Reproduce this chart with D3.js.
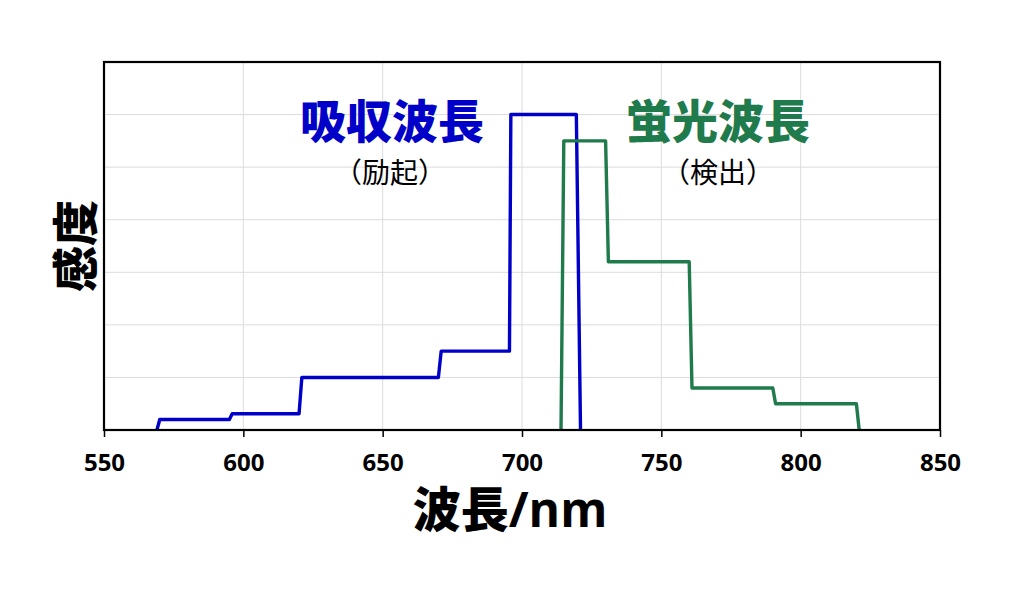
<!DOCTYPE html>
<html>
<head>
<meta charset="utf-8">
<script src="https://cdn.jsdelivr.net/npm/d3@7"></script>
<style>
  body { margin: 0; background: #fff; }
  svg { display: block; }
  .tick text { font-family: "Open Sans", sans-serif; font-weight: bold; }
  .cjk { font-family: "Noto Sans CJK JP", sans-serif; }
  .lat { font-family: "Open Sans", sans-serif; }
</style>
</head>
<body>
<div id="chart"></div>
<script>
// wavelength (nm) / sensitivity pairs
const absWave = [569, 570, 595, 596, 620, 621, 670, 671, 695.5, 696, 719.5, 721];
const absVal  = [0, 0.2, 0.2, 0.31, 0.31, 1.0, 1.0, 1.5, 1.5, 6.0, 6.0, 0];
const fluWave = [714, 715, 730, 731, 760, 761, 790, 791, 820, 821];
const fluVal  = [0, 5.5, 5.5, 3.2, 3.2, 0.8, 0.8, 0.5, 0.5, 0];
const xTicks = [550, 600, 650, 700, 750, 800, 850];
const yGrid = [1, 2, 3, 4, 5, 6];

const W = 1020, H = 599;
const margin = { left: 104, right: 80, top: 62, bottom: 169 };
const iw = W - margin.left - margin.right;
const ih = H - margin.top - margin.bottom;

const svg = d3.select('#chart').append('svg')
  .attr('width', W)
  .attr('height', H);

const g = svg.append('g')
  .attr('transform', `translate(${margin.left},${margin.top})`);

const x = d3.scaleLinear().domain([550, 850]).range([0, iw]);
const y = d3.scaleLinear().domain([0, 7]).range([ih, 0]);

// grid
g.append('g').selectAll('line')
  .data(xTicks.slice(1, -1))
  .enter().append('line')
  .attr('x1', d => x(d)).attr('x2', d => x(d))
  .attr('y1', 0).attr('y2', ih)
  .attr('stroke', '#dcdcdc').attr('stroke-width', 1);
g.append('g').selectAll('line')
  .data(yGrid)
  .enter().append('line')
  .attr('x1', 0).attr('x2', iw)
  .attr('y1', d => y(d)).attr('y2', d => y(d))
  .attr('stroke', '#dcdcdc').attr('stroke-width', 1);

// x axis
const xAxis = g.append('g')
  .attr('transform', `translate(0,${ih})`)
  .call(d3.axisBottom(x).tickValues(xTicks).tickSize(7).tickPadding(17).tickFormat(d3.format('d')));
xAxis.select('.domain').remove();
xAxis.selectAll('.tick line').attr('stroke', '#000').attr('stroke-width', 1.5);
xAxis.selectAll('.tick text').attr('font-size', 24).attr('fill', '#000');

// series
const line = d3.line().x(d => x(d[0])).y(d => y(d[1]));
const absPts = absWave.map((w, i) => [w, absVal[i]]);
const fluPts = fluWave.map((w, i) => [w, fluVal[i]]);

g.append('path')
  .datum(absPts)
  .attr('d', line)
  .attr('fill', 'none')
  .attr('stroke', '#0000c8')
  .attr('stroke-width', 3.4)
  .attr('stroke-linejoin', 'round');

g.append('path')
  .datum(fluPts)
  .attr('d', line)
  .attr('fill', 'none')
  .attr('stroke', '#1f7a4c')
  .attr('stroke-width', 3.4)
  .attr('stroke-linejoin', 'round');

// frame
g.append('rect')
  .attr('width', iw).attr('height', ih)
  .attr('fill', 'none')
  .attr('stroke', '#000')
  .attr('stroke-width', 2.2);

// annotations
const labels = [
  { t: '吸収波長', x: 392, y: 138, size: 46, w: 900, c: '#0000c8' },
  { t: '（励起）', x: 390, y: 183, size: 28, w: 'normal', c: '#000' },
  { t: '蛍光波長', x: 718, y: 138, size: 46, w: 900, c: '#1f7a4c' },
  { t: '（検出）', x: 718, y: 183, size: 28, w: 'normal', c: '#000' },
];
svg.append('g').selectAll('text')
  .data(labels)
  .enter().append('text')
  .attr('class', 'cjk')
  .attr('x', d => d.x).attr('y', d => d.y)
  .attr('text-anchor', 'middle')
  .attr('font-size', d => d.size)
  .attr('font-weight', d => d.w)
  .attr('fill', d => d.c)
  .text(d => d.t);

const xl = svg.append('text')
  .attr('x', 510).attr('y', 527)
  .attr('text-anchor', 'middle')
  .attr('font-size', 48)
  .attr('font-weight', 'bold')
  .attr('fill', '#000');
xl.append('tspan').attr('class', 'cjk').attr('font-weight', 900).text('波長');
xl.append('tspan').attr('class', 'lat').text('/nm');

svg.append('text')
  .attr('class', 'cjk')
  .attr('transform', 'translate(92,246) rotate(-90)')
  .attr('text-anchor', 'middle')
  .attr('font-size', 46)
  .attr('font-weight', 900)
  .attr('fill', '#000')
  .text('感度');
</script>
</body>
</html>
